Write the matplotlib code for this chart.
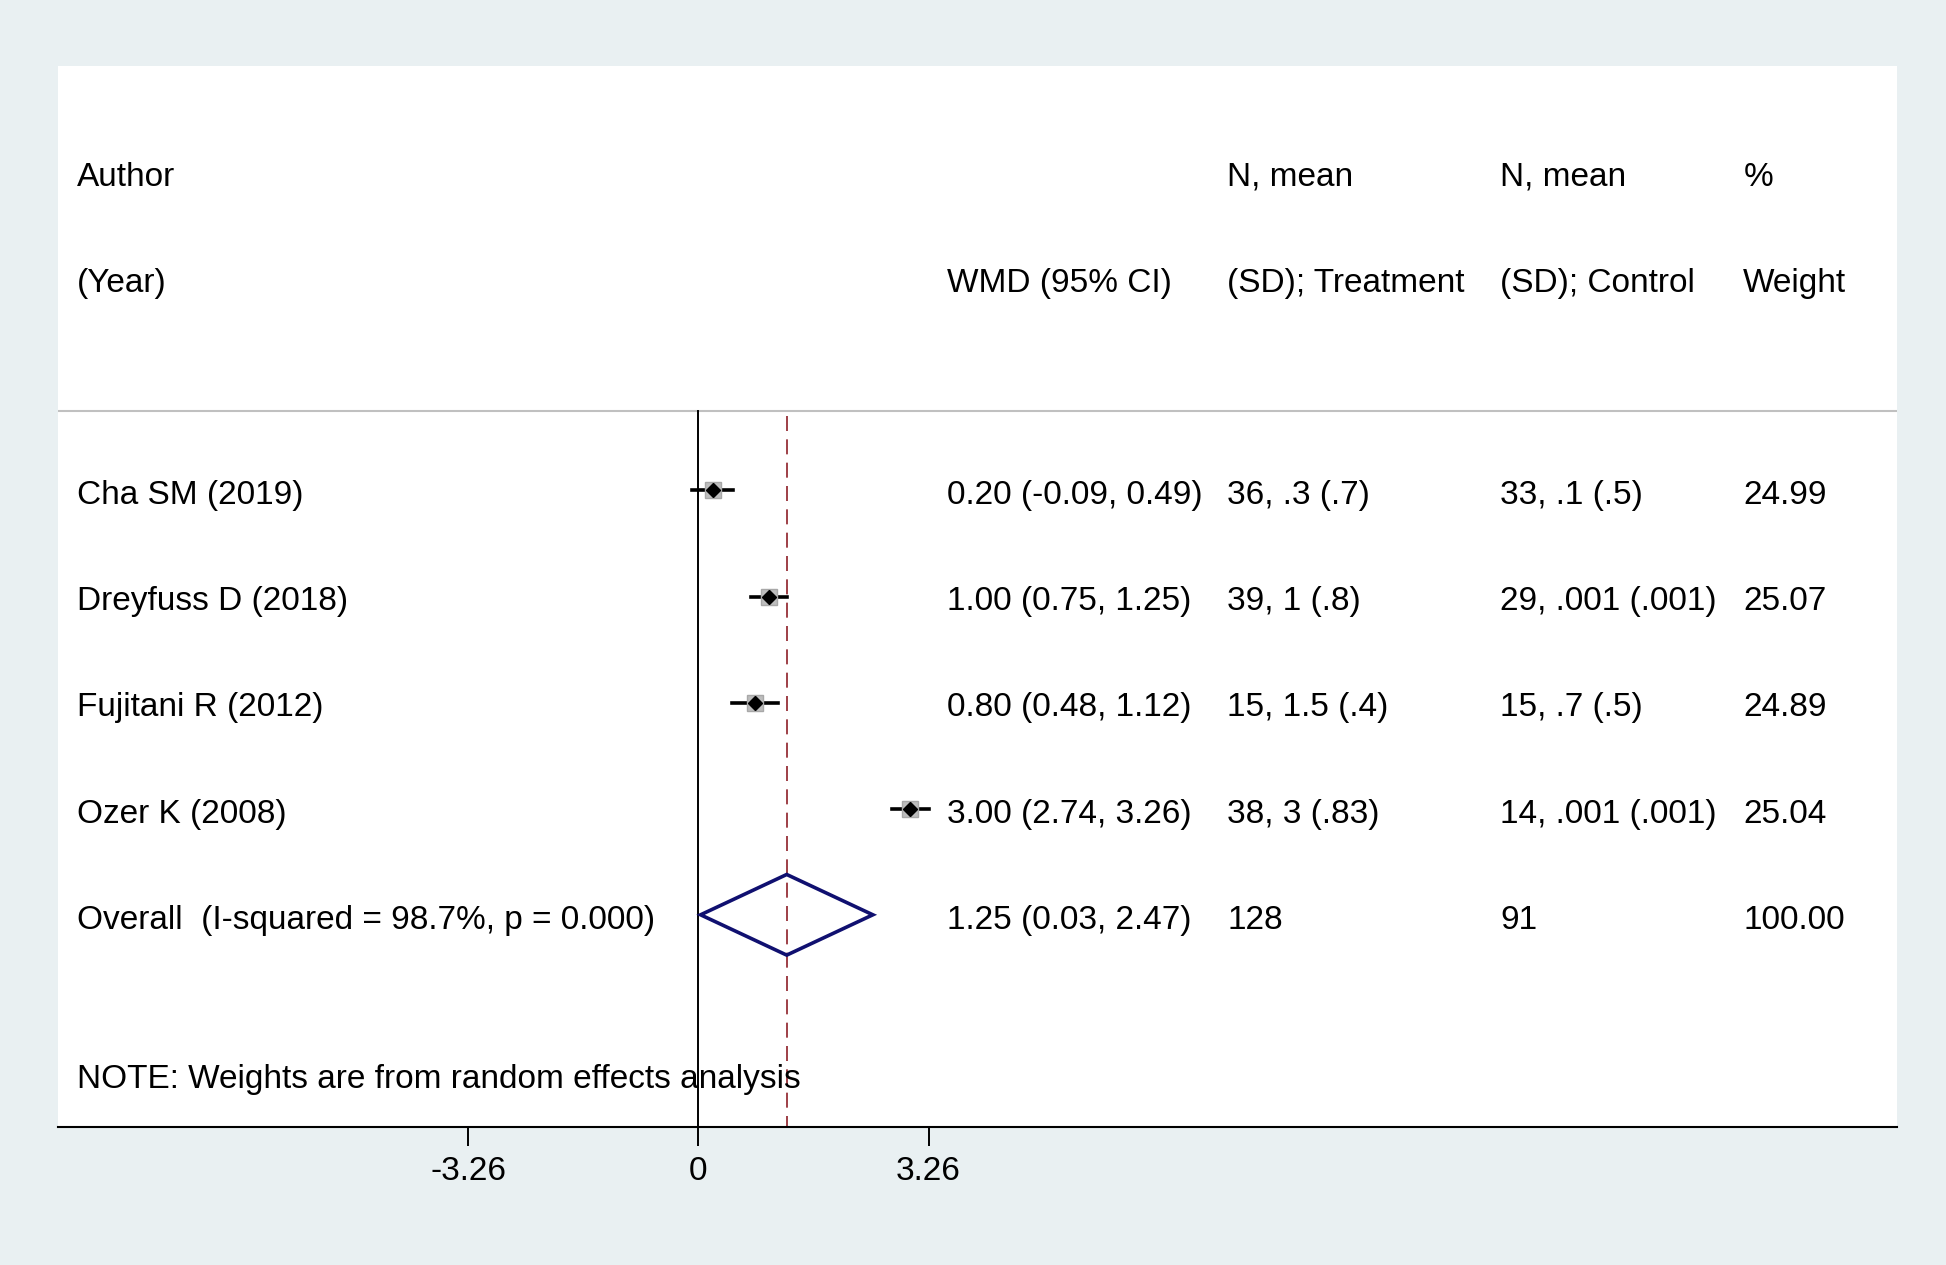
import matplotlib.pyplot as plt
from matplotlib.patches import Polygon

plt.rcParams["font.family"] = ["Liberation Sans", "DejaVu Sans"]

# study data
studies = ["Cha SM (2019)", "Dreyfuss D (2018)", "Fujitani R (2012)", "Ozer K (2008)"]
wmd = [0.20, 1.00, 0.80, 3.00]
ci_low = [-0.09, 0.75, 0.48, 2.74]
ci_high = [0.49, 1.25, 1.12, 3.26]
treatment = ["36, .3 (.7)", "39, 1 (.8)", "15, 1.5 (.4)", "38, 3 (.83)"]
control = ["33, .1 (.5)", "29, .001 (.001)", "15, .7 (.5)", "14, .001 (.001)"]
weight = [24.99, 25.07, 24.89, 25.04]

# pooled estimate
overall_label = "Overall  (I-squared = 98.7%, p = 0.000)"
overall_wmd = 1.25
overall_low = 0.03
overall_high = 2.47
overall_treat = "128"
overall_ctrl = "91"
overall_weight = 100.00

tick_vals = [-3.26, 0, 3.26]
tick_labels = ["-3.26", "0", "3.26"]

BG = "#E9F0F2"
FS = 24
DY = 0.05  # nudge text down a touch

fig = plt.figure(figsize=(19.46, 12.65), dpi=100, facecolor=BG)
ax = fig.add_axes([0.0298, 0.1091, 0.945, 0.8387])
ax.set_facecolor("white")

ax.set_xlim(-9.072, 16.976)
ax.set_ylim(7, -3)

for side in ["top", "left", "right"]:
    ax.spines[side].set_visible(False)
ax.spines["bottom"].set_linewidth(1.5)
ax.set_yticks([])
ax.set_xticks(tick_vals)
ax.set_xticklabels(tick_labels, fontsize=FS)
ax.tick_params(axis="x", direction="out", length=14, width=1.4, pad=7)


def txt(x, y, s):
    ax.text(x, y + DY, s, fontsize=FS, va="center")


# column positions (data x)
col_author, col_wmd, col_treat, col_ctrl, col_weight = -8.80, 3.52, 7.49, 11.36, 14.80

# header
txt(col_author, -2, "Author")
txt(col_author, -1, "(Year)")
txt(col_wmd, -1, "WMD (95% CI)")
txt(col_treat, -2, "N, mean")
txt(col_treat, -1, "(SD); Treatment")
txt(col_ctrl, -2, "N, mean")
txt(col_ctrl, -1, "(SD); Control")
txt(col_weight, -2, "%")
txt(col_weight, -1, "Weight")

ax.axhline(0.25, color="#C0C0C0", lw=1.5)

# reference lines
ax.plot([0, 0], [0.25, 7], color="black", lw=1.4, zorder=2)
ax.plot([overall_wmd, overall_wmd], [0.3, 7], color="#8E1F27", lw=1.2,
        dashes=(9, 5), zorder=2)

# studies
for i, name in enumerate(studies):
    y = i + 1
    ax.plot([ci_low[i], ci_high[i]], [y, y], color="black", lw=2.6, zorder=3)
    ax.plot(wmd[i], y, marker="s", ms=11, color="#BDBDBD", mec="#A8A8A8", zorder=3)
    ax.plot(wmd[i], y, marker="D", ms=7, color="black", zorder=4)
    txt(col_author, y, name)
    txt(col_wmd, y, f"{wmd[i]:.2f} ({ci_low[i]:.2f}, {ci_high[i]:.2f})")
    txt(col_treat, y, treatment[i])
    txt(col_ctrl, y, control[i])
    txt(col_weight, y, f"{weight[i]:.2f}")

# overall diamond
yo = len(studies) + 1
h = 0.38
diamond = Polygon([(overall_low, yo), (overall_wmd, yo - h), (overall_high, yo),
                   (overall_wmd, yo + h)], closed=True, fill=False,
                  edgecolor="#101070", lw=2.6, zorder=3)
ax.add_patch(diamond)
txt(col_author, yo, overall_label)
txt(col_wmd, yo, f"{overall_wmd:.2f} ({overall_low:.2f}, {overall_high:.2f})")
txt(col_treat, yo, overall_treat)
txt(col_ctrl, yo, overall_ctrl)
txt(col_weight, yo, f"{overall_weight:.2f}")

txt(col_author, 6.5, "NOTE: Weights are from random effects analysis")

fig.savefig("out.png", dpi=100, facecolor=BG)
